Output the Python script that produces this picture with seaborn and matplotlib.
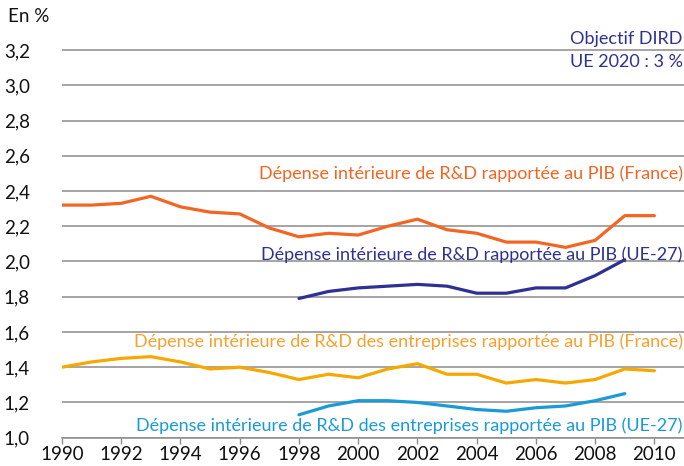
import matplotlib
matplotlib.use("Agg")
import matplotlib.pyplot as plt
import seaborn as sns
import pandas as pd

years_fr = list(range(1990, 2011))
years_eu = list(range(1998, 2010))

dird_france = [2.32, 2.32, 2.33, 2.37, 2.31, 2.28, 2.27, 2.19, 2.14, 2.16, 2.15,
               2.20, 2.24, 2.18, 2.16, 2.11, 2.11, 2.08, 2.12, 2.26, 2.26]
dird_ue27 = [1.79, 1.83, 1.85, 1.86, 1.87, 1.86, 1.82, 1.82, 1.85, 1.85, 1.92, 2.01]
dirde_france = [1.40, 1.43, 1.45, 1.46, 1.43, 1.39, 1.40, 1.37, 1.33, 1.36, 1.34,
                1.39, 1.42, 1.36, 1.36, 1.31, 1.33, 1.31, 1.33, 1.39, 1.38]
dirde_ue27 = [1.13, 1.18, 1.21, 1.21, 1.20, 1.18, 1.16, 1.15, 1.17, 1.18, 1.21, 1.25]

labels = {
    "dird_fr": "Dépense intérieure de R&D rapportée au PIB (France)",
    "dird_eu": "Dépense intérieure de R&D rapportée au PIB (UE-27)",
    "dirde_fr": "Dépense intérieure de R&D des entreprises rapportée au PIB (France)",
    "dirde_eu": "Dépense intérieure de R&D des entreprises rapportée au PIB (UE-27)",
}
yticks = [1.0, 1.2, 1.4, 1.6, 1.8, 2.0, 2.2, 2.4, 2.6, 2.8, 3.0, 3.2]
xticks = list(range(1990, 2011, 2))

c_orange = "#F26522"
c_navy = "#2E3192"
c_yellow = "#F7A800"
c_cyan = "#1A9AD6"

sns.set_theme(style="white")
plt.rcParams["font.family"] = ["Lato", "DejaVu Sans"]

fig = plt.figure(figsize=(6.84, 4.66), dpi=100)
ax = fig.add_axes([62 / 684, 1 - 437.7 / 466, 1 - 62 / 684, (437.7 - 41.2) / 466])

df_fr = pd.DataFrame({"annee": years_fr, "a": dird_france, "b": dirde_france})
df_eu = pd.DataFrame({"annee": years_eu, "a": dird_ue27, "b": dirde_ue27})

lw = 2.3
sns.lineplot(data=df_fr, x="annee", y="a", color=c_orange, lw=lw, ax=ax)
sns.lineplot(data=df_eu, x="annee", y="a", color=c_navy, lw=lw, ax=ax)
sns.lineplot(data=df_fr, x="annee", y="b", color=c_yellow, lw=lw, ax=ax)
sns.lineplot(data=df_eu, x="annee", y="b", color=c_cyan, lw=lw, ax=ax)

ax.set_xlim(1990, 2011)
ax.set_ylim(1.0, 3.25)
ax.set_yticks(yticks)
ax.set_yticklabels([f"{v:.1f}".replace(".", ",") for v in yticks])
ax.set_xticks(xticks)
ax.set_xticklabels([str(v) for v in xticks])
ax.set_xlabel("")
ax.set_ylabel("")

for v in yticks:
    ax.axhline(v, color="#8c8c8c", lw=1.1, zorder=0)

for s in ["top", "right", "left"]:
    ax.spines[s].set_visible(False)
ax.spines["bottom"].set_color("#8c8c8c")
ax.spines["bottom"].set_linewidth(1.1)

ax.tick_params(axis="x", which="major", bottom=True, length=4, width=1.0,
               color="#8c8c8c", labelsize=13.5, pad=2, labelcolor="#111111")
ax.tick_params(axis="y", length=0, labelsize=13.5, pad=23, labelcolor="#111111")

tr = ax.get_yaxis_transform()
fs = 13
ax.text(0.998, 2.50, labels["dird_fr"], color=c_orange, fontsize=fs,
        ha="right", va="center", transform=tr)
ax.text(0.998, 2.036, labels["dird_eu"], color=c_navy, fontsize=fs,
        ha="right", va="center", transform=tr)
ax.text(0.998, 1.545, labels["dirde_fr"], color="#F6A12E", fontsize=fs,
        ha="right", va="center", transform=tr)
ax.text(0.998, 1.066, labels["dirde_eu"], color=c_cyan, fontsize=fs,
        ha="right", va="center", transform=tr)
ax.text(0.998, 3.263, "Objectif DIRD", color=c_navy, fontsize=fs,
        ha="right", va="center", transform=tr, clip_on=False)
ax.text(0.998, 3.134, "UE 2020 : 3 %", color=c_navy, fontsize=fs,
        ha="right", va="center", transform=tr)

fig.text(8 / 684, 1 - 17 / 466, "En %", fontsize=13.5, color="#111111",
         ha="left", va="center")

fig.savefig("out.png", dpi=100)
